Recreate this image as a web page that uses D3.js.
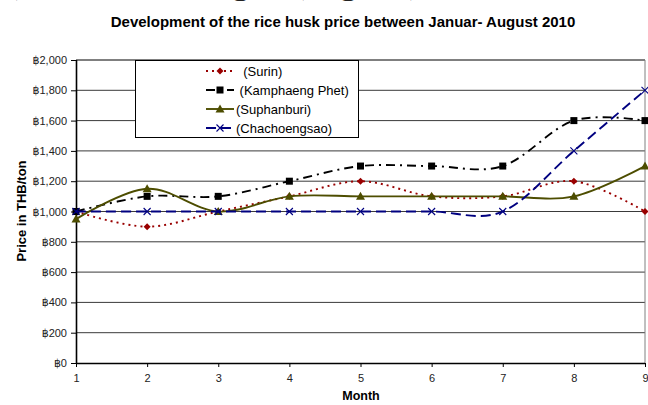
<!DOCTYPE html>
<html lang="en">
<head>
<meta charset="UTF-8">
<title>Rice husk price 2010</title>
<script src="https://d3js.org/d3.v7.min.js"></script>
<style>
  body { margin: 0; background: #fff; }
  svg { display: block; font-family: Arial, "Liberation Sans", sans-serif; }
  .lg text { white-space: pre; }
</style>
</head>
<body>
<svg width="648" height="405"></svg>
<script>
// data
const months = [1, 2, 3, 4, 5, 6, 7, 8, 9];
const surin = [1000, 900, 1000, 1100, 1200, 1100, 1100, 1200, 1000];
const kamphaeng = [1000, 1100, 1100, 1200, 1300, 1300, 1300, 1600, 1600];
const suphanburi = [950, 1150, 1000, 1100, 1100, 1100, 1100, 1100, 1300];
const chachoengsao = [1000, 1000, 1000, 1000, 1000, 1000, 1000, 1400, 1800];
const seriesNames = ["  (Surin)", " (Kamphaeng Phet)", "(Suphanburi)", "(Chachoengsao)"];
const yTicks = [0, 200, 400, 600, 800, 1000, 1200, 1400, 1600, 1800, 2000];

const series = [
  { name: seriesNames[0], values: surin, color: "#990000", dash: "2,4", marker: "diamond" },
  { name: seriesNames[1], values: kamphaeng, color: "#000000", dash: "9,5,2,5", marker: "square" },
  { name: seriesNames[2], values: suphanburi, color: "#4d4d00", dash: null, marker: "triangle" },
  { name: seriesNames[3], values: chachoengsao, color: "#000080", dash: "10,5", marker: "cross" }
];

const svg = d3.select("svg");
const pl = 76, pr = 645, pt = 60, pb = 363;

const x = d3.scaleLinear().domain([1, 9]).range([pl, pr]);
const y = d3.scaleLinear().domain([0, 2000]).range([pb, pt]);

// clipped line of the page text above the chart
const frag = svg.append("text")
    .attr("y", -8)
    .attr("font-family", "'Liberation Serif', 'Times New Roman', serif")
    .attr("font-size", 40)
    .attr("fill", "#222")
    .text("(Thai) are on the right (Figure)");
const off = frag.node().getSubStringLength(0, 5);
frag.attr("x", 15 - off);

svg.append("text")
    .attr("x", 343).attr("y", 27)
    .attr("text-anchor", "middle")
    .attr("font-weight", "bold")
    .attr("font-size", 15)
    .text("Development of the rice husk price between Januar- August 2010");

// grid
svg.append("g")
  .selectAll("line")
  .data(yTicks.filter(d => d > 0))
  .join("line")
    .attr("x1", pl).attr("x2", pr)
    .attr("y1", d => y(d)).attr("y2", d => y(d))
    .attr("stroke", d => d === 2000 ? "#000" : "#3a3a3a")
    .attr("stroke-width", 1);

svg.append("line")
    .attr("x1", pr).attr("x2", pr).attr("y1", pt).attr("y2", pb)
    .attr("stroke", "#808080");

// axes
const fmt = d => "\u0E3F" + d3.format(",")(d);
const yAxis = svg.append("g")
    .attr("transform", `translate(${pl},0)`)
    .call(d3.axisLeft(y).tickValues(yTicks).tickFormat(fmt).tickSize(5).tickPadding(4));
const xAxis = svg.append("g")
    .attr("transform", `translate(0,${pb})`)
    .call(d3.axisBottom(x).tickValues(months).tickFormat(d3.format("d")).tickSize(4).tickPadding(7));
[yAxis, xAxis].forEach(a => {
  a.select(".domain").attr("stroke", "#000").attr("stroke-width", 1.6);
  a.selectAll(".tick line").attr("stroke", "#000");
  a.selectAll(".tick text").attr("font-size", 11).attr("fill", "#222")
    .attr("font-family", "Arial, 'Liberation Sans', 'DejaVu Sans', sans-serif");
});
xAxis.select(".domain").attr("d", `M${pl},0.5H${pr}`);
yAxis.select(".domain").attr("d", `M0.5,${pb}V${pt}`);

svg.append("text")
    .attr("x", 361).attr("y", 400)
    .attr("text-anchor", "middle")
    .attr("font-weight", "bold").attr("font-size", 12.5)
    .text("Month");

svg.append("text")
    .attr("transform", `translate(26,211) rotate(-90)`)
    .attr("text-anchor", "middle")
    .attr("font-weight", "bold").attr("font-size", 13)
    .text("Price in THB/ton");

// markers
function drawMarker(g, type, color) {
  if (type === "diamond") {
    g.append("path").attr("d", "M0,-3.5L3.5,0L0,3.5L-3.5,0Z").attr("fill", color);
  } else if (type === "square") {
    g.append("rect").attr("x", -3.5).attr("y", -3.5).attr("width", 7).attr("height", 7).attr("fill", color);
  } else if (type === "triangle") {
    g.append("path").attr("d", "M0,-4.5L4.5,3.5L-4.5,3.5Z").attr("fill", color);
  } else {
    g.append("path").attr("d", "M-3.5,-3.5L3.5,3.5M3.5,-3.5L-3.5,3.5")
      .attr("stroke", color).attr("stroke-width", 1.1).attr("fill", "none");
  }
}

const line = d3.line()
    .x((d, i) => x(months[i]))
    .y(d => y(d))
    .curve(d3.curveCardinal.tension(0));

series.forEach(s => {
  svg.append("path")
      .datum(s.values)
      .attr("d", line)
      .attr("fill", "none")
      .attr("stroke", s.color)
      .attr("stroke-width", 1.9)
      .attr("stroke-dasharray", s.dash);
  s.values.forEach((v, i) => {
    const g = svg.append("g").attr("transform", `translate(${x(months[i])},${y(v)})`);
    drawMarker(g, s.marker, s.color);
  });
});

// legend
const lg = svg.append("g").attr("class", "lg");
lg.append("rect")
    .attr("x", 135.5).attr("y", 60.5).attr("width", 223).attr("height", 77)
    .attr("fill", "#fff").attr("stroke", "#000");
series.forEach((s, i) => {
  const ly = 71 + i * 19;
  lg.append("line")
      .attr("x1", 206).attr("x2", 234).attr("y1", ly).attr("y2", ly)
      .attr("stroke", s.color).attr("stroke-width", 1.9)
      .attr("stroke-dasharray", s.dash);
  const g = lg.append("g").attr("transform", `translate(220,${ly})`);
  drawMarker(g, s.marker, s.color);
  lg.append("text")
      .attr("x", 236).attr("y", ly + 4.5)
      .attr("font-size", 13)
      .text(s.name);
});
</script>
</body>
</html>
